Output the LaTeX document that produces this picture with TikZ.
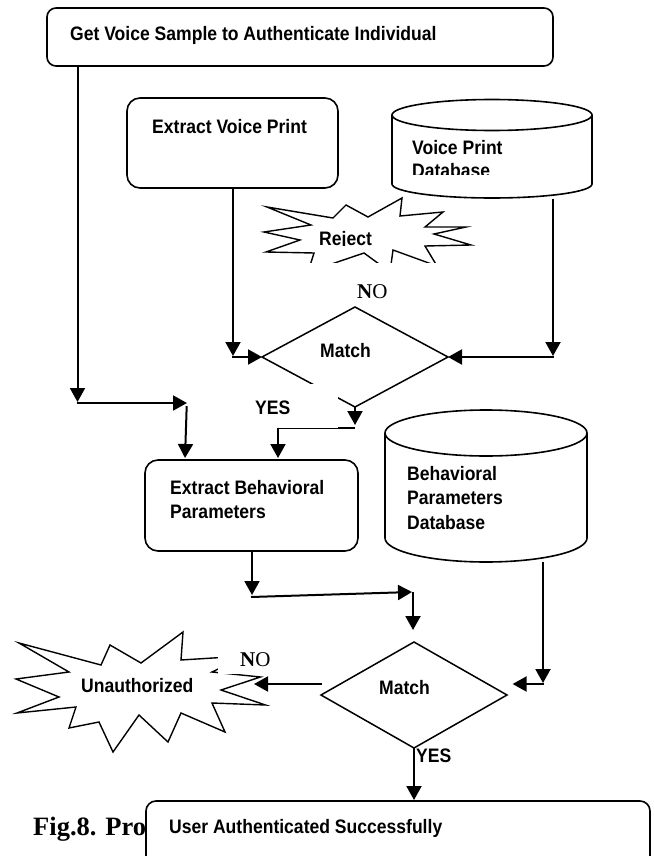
\documentclass[tikz,border=0pt]{standalone}
\usepackage{fontspec}
\setmainfont{Liberation Sans}
\newfontfamily\labfont{Liberation Sans}[UprightFont={* Bold}, FakeStretch=0.9]
\newfontfamily\serifface{Liberation Serif}
\usetikzlibrary{arrows.meta}

\begin{document}
\begin{tikzpicture}[x=1pt, y=-1pt,
  outline/.style={draw, line width=1.6pt},
  rbox/.style={outline, fill=white, rounded corners=11pt, inner sep=0pt, outer sep=0pt, anchor=north west},
  lbl/.style={font=\fontsize{19.5}{24}\labfont, anchor=base west, inner sep=0pt},
  yesno/.style={font=\fontsize{21}{24}\selectfont\serifface, anchor=base west, inner sep=0pt},
  link/.style={line width=2pt},
  arrow/.style={link, -{Triangle[length=14pt, width=15pt]}},
  burst/.style={draw, line width=1.4pt, fill=white, line join=miter},
  diam/.style={draw, line width=1.5pt, fill=white},
  hide/.style={fill=white, draw=none},
]
\useasboundingbox (0,0) rectangle (654,856);
\fill[white] (0,0) rectangle (654,856);
\clip (0,0) rectangle (654,856);

% ---------- start box ----------
\node[rbox, rounded corners=9pt, minimum width=506pt, minimum height=58pt] (getbox) at (47,8) {};
\node[lbl] (gettxt) at (70,41) {Get Voice Sample to Authenticate Individual};

% ---------- voice print extraction ----------
\node[rbox, rounded corners=13pt, minimum width=211pt, minimum height=90pt] (evp) at (127,98) {};
\node[lbl] (evptxt) at (152,133) {Extract Voice Print};

% ---------- voice print database (cylinder) ----------
\draw[outline, fill=white] (392,115) -- (392,184)
  arc[start angle=180, end angle=0, x radius=100, y radius=14] -- (592,115);
\draw[outline] (492,115) ellipse[x radius=100, y radius=15.5];
\node[lbl] (vpdA) at (412,154) {Voice Print};
\begin{scope}
  \clip (400,158) rectangle (580,174.5);
  \node[lbl] (vpdB) at (412,177) {Database};
\end{scope}

% ---------- reject burst ----------
\draw[burst] (267,207) -- (333,218) -- (346,205) -- (368,217) -- (402,198)
  -- (400,216) -- (443,212) -- (425,227) -- (466,227) -- (434,234)
  -- (471,245) -- (425,246) -- (437,266) -- (393,250) -- (390,272)
  -- (364,253) -- (308,272) -- (314,253) -- (266,252) -- (300,240)
  -- (264,232) -- (311,225) -- cycle;
\fill[hide] (250,263) rectangle (485,280);
\begin{scope}
  \clip (300,220) rectangle (400,245.5);
  \node[lbl] (rej) at (319,245) {Reject};
\end{scope}
\node[yesno] (noA) at (357,298) {\textbf{N}O};

% ---------- first decision ----------
\coordinate (mAw) at (262,357);
\coordinate (mAn) at (355,307);
\coordinate (mAe) at (448,357);
\coordinate (mAs) at (355,407);
\draw[diam] (mAw) -- (mAn) -- (mAe) -- (mAs) -- cycle;
\node[lbl] (matchA) at (320,357) {Match};
\fill[hide] (240,384) rectangle (338,427.5);
\node[lbl] (yesA) at (255,414) {YES};

% ---------- behavioural extraction ----------
\node[rbox, rounded corners=13pt, minimum width=213pt, minimum height=91pt] (ebp) at (145,460) {};
\node[lbl] (ebpA) at (170,494) {Extract Behavioral};
\node[lbl] (ebpB) at (170,518) {Parameters};

% ---------- behavioural database (cylinder) ----------
\draw[outline, fill=white] (385,433) -- (385,538)
  arc[start angle=180, end angle=0, x radius=101, y radius=24] -- (587,433);
\draw[outline] (486,433) ellipse[x radius=101, y radius=23];
\node[lbl] (bpdA) at (407,480) {Behavioral};
\node[lbl] (bpdB) at (407,504) {Parameters};
\node[lbl] (bpdC) at (407,529) {Database};

% ---------- unauthorized burst ----------
\draw[burst] (19,643) -- (101,665) -- (110,645) -- (141,663) -- (183,632)
  -- (181,660) -- (245,656) -- (212,672) -- (260.5,677) -- (221,690)
  -- (265.5,705) -- (212,703) -- (225,732) -- (181,713) -- (168,742)
  -- (139,715) -- (113,752) -- (99,722) -- (69,728) -- (76,707)
  -- (17,713) -- (59,697) -- (16,679) -- (69,672) -- cycle;
\fill[hide] (218,650) rectangle (276,674);
\node[lbl] (unauth) at (81,692) {Unauthorized};
\node[yesno] (noB) at (240,666) {\textbf{N}O};

% ---------- second decision ----------
\coordinate (mBw) at (321,695);
\coordinate (mBn) at (414,642);
\coordinate (mBe) at (507,695);
\coordinate (mBs) at (414,748);
\draw[diam] (mBw) -- (mBn) -- (mBe) -- (mBs) -- cycle;
\node[lbl] (matchB) at (379,694) {Match};
\node[lbl] (yesB) at (416,762) {YES};

% ---------- caption and final box ----------
\node[font=\fontsize{26.5}{30}\selectfont\serifface\bfseries, anchor=base west, inner sep=0pt] (cap) at (33,835) {Fig.8. Pro};
\node[rbox, rounded corners=10pt, minimum width=504pt, minimum height=80pt] (done) at (146,801) {};
\node[lbl] (donetxt) at (169,833) {User Authenticated Successfully};

% ---------- connector points ----------
\coordinate (s1) at (77.5,66);   \coordinate (s2) at (77.5,402);
\coordinate (s3) at (76.5,403);  \coordinate (s4) at (187,403);
\coordinate (s5) at (186.7,406); \coordinate (s6) at (185,458);
\coordinate (e1) at (233,188);   \coordinate (e2) at (233,356);
\coordinate (e3) at (232,357);
\coordinate (d1) at (553,199);   \coordinate (d2) at (553,356);
\coordinate (d3) at (554,357);
\coordinate (y1) at (355,425);   \coordinate (y2) at (355,428);
\coordinate (y3) at (338,428);   \coordinate (y4) at (277,428.6);
\coordinate (y5) at (278,427.5); \coordinate (y6) at (278,458);
\coordinate (b1) at (252,551);   \coordinate (b2) at (252,595);
\coordinate (b3) at (251,597);   \coordinate (b4) at (412,592);
\coordinate (b5) at (413,592);   \coordinate (b6) at (413,630);
\coordinate (c1) at (543,562);   \coordinate (c2) at (543,683);
\coordinate (c3) at (544,684);   \coordinate (c4) at (512.6,684);
\coordinate (n1) at (322,684);   \coordinate (n2) at (254,684);
\coordinate (f1) at (414,800);

% ---------- connectors ----------
\draw[arrow] (s1) -- (s2);
\draw[arrow] (s3) -- (s4);
\draw[arrow] (s5) -- (s6);
\draw[arrow] (e1) -- (e2);
\draw[arrow] (e3) -- (mAw);
\draw[arrow] (d1) -- (d2);
\draw[arrow] (d3) -- (mAe);
\draw[arrow] (mAs) -- (y1);
\draw[link] (y2) -- (y3);
\draw[line width=0.8pt] (y3 |- y4) -- (y4);
\draw[arrow] (y5) -- (y6);
\draw[arrow] (b1) -- (b2);
\draw[arrow] (b3) -- (b4);
\draw[arrow] (b5) -- (b6);
\draw[arrow] (c1) -- (c2);
\draw[arrow] (c3) -- (c4);
\draw[arrow] (n1) -- (n2);
\draw[arrow] (mBs) -- (f1);
\end{tikzpicture}
\end{document}
